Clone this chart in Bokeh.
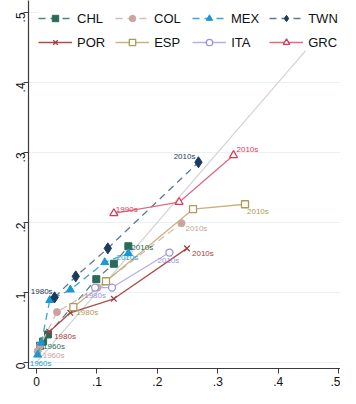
from bokeh.plotting import figure
from bokeh.models import Range1d, Legend, LegendItem, FixedTicker, CustomJSTickFormatter, Label
from bokeh.embed import file_html
from bokeh.resources import INLINE

# ---------------- data ----------------
countries = ["CHL", "COL", "MEX", "TWN", "POR", "ESP", "ITA", "GRC"]

CHL_dec = ["1960s", "1970s", "1980s", "1990s", "2000s", "2010s"]
CHL_x = [0.006, 0.011, 0.019, 0.099, 0.128, 0.152]
CHL_y = [0.024, 0.030, 0.040, 0.119, 0.141, 0.166]

COL_dec = ["1960s", "1970s", "1980s", "1990s", "2010s"]
COL_x = [0.002, 0.006, 0.034, 0.101, 0.240]
COL_y = [0.016, 0.024, 0.072, 0.107, 0.199]

MEX_dec = ["1960s", "1970s", "1980s", "1990s", "2000s", "2010s"]
MEX_x = [0.002, 0.008, 0.022, 0.056, 0.113, 0.152]
MEX_y = [0.011, 0.028, 0.089, 0.104, 0.143, 0.156]

TWN_dec = ["1980s", "1990s", "2000s", "2010s"]
TWN_x = [0.030, 0.065, 0.118, 0.268]
TWN_y = [0.093, 0.123, 0.163, 0.286]

POR_dec = ["1980s", "1990s", "2000s", "2010s"]
POR_x = [0.021, 0.056, 0.128, 0.249]
POR_y = [0.044, 0.071, 0.091, 0.163]

ESP_dec = ["1980s", "1990s", "2000s", "2010s"]
ESP_x = [0.061, 0.115, 0.259, 0.345]
ESP_y = [0.079, 0.116, 0.219, 0.226]

ITA_dec = ["1980s", "2000s", "2010s"]
ITA_x = [0.097, 0.125, 0.220]
ITA_y = [0.107, 0.107, 0.157]

GRC_dec = ["1990s", "2000s", "2010s"]
GRC_x = [0.128, 0.236, 0.326]
GRC_y = [0.213, 0.229, 0.296]

diag_x = [0.0, 0.445]
diag_y = [0.0, 0.445]

y_ticks = [0, 0.1, 0.2, 0.3, 0.4, 0.5]
x_ticks = [0, 0.1, 0.2, 0.3, 0.4, 0.5]

series = {
    "CHL": (CHL_dec, CHL_x, CHL_y),
    "COL": (COL_dec, COL_x, COL_y),
    "MEX": (MEX_dec, MEX_x, MEX_y),
    "TWN": (TWN_dec, TWN_x, TWN_y),
    "POR": (POR_dec, POR_x, POR_y),
    "ESP": (ESP_dec, ESP_x, ESP_y),
    "ITA": (ITA_dec, ITA_x, ITA_y),
    "GRC": (GRC_dec, GRC_x, GRC_y),
}

# ---------------- styles ----------------
FONT = "Liberation Sans"
style = {
    "CHL": dict(line="#4f8677", mark="#2a6a58", marker="square", size=7, dash="7 5", fill=True),
    "COL": dict(line="#d9bab3", mark="#c9a39c", marker="circle", size=7, dash="7 5", fill=True),
    "MEX": dict(line="#3aa6d8", mark="#1a98d0", marker="triangle", size=8, dash="7 5", fill=True),
    "TWN": dict(line="#5d7898", mark="#1b3a5c", marker="diamond", size=11, dash="7 5", fill=True),
    "POR": dict(line="#ad4c4c", mark="#a23e3e", marker="x", size=8, dash="solid", fill=True),
    "ESP": dict(line="#c7b380", mark="#b09a58", marker="square", size=7, dash="solid", fill=False),
    "ITA": dict(line="#b4aeea", mark="#9a92e0", marker="circle", size=7, dash="solid", fill=False),
    "GRC": dict(line="#e06a82", mark="#d83a5a", marker="triangle", size=8, dash="solid", fill=False),
}

# label placement: (country, decade) -> (x_offset px, y_offset px (up positive), align)
label_pos = {
    ("CHL", "1960s"): (3, -1, "left"),
    ("CHL", "2010s"): (3, -1, "left"),
    ("COL", "1960s"): (5, -4, "left"),
    ("COL", "2010s"): (4, -5, "left"),
    ("MEX", "1960s"): (-8, -9, "left"),
    ("MEX", "2010s"): (-1, -4, "center"),
    ("TWN", "1980s"): (-2, 6, "right"),
    ("TWN", "2010s"): (-3, 6, "right"),
    ("POR", "1980s"): (5, -5, "left"),
    ("POR", "2010s"): (5, -5, "left"),
    ("ESP", "1980s"): (3, -5, "left"),
    ("ESP", "2010s"): (2, -7, "left"),
    ("ITA", "1980s"): (0, -8, "center"),
    ("ITA", "2010s"): (-1, -8, "center"),
    ("GRC", "1990s"): (2, 4, "left"),
    ("GRC", "2010s"): (3, 6, "left"),
}

p = figure(width=340, height=388, output_backend="svg", toolbar_location=None,
           x_range=Range1d(-0.0132, 0.503), y_range=Range1d(-0.0086, 0.517),
           min_border_left=28, min_border_right=0, min_border_top=0, min_border_bottom=19)
p.outline_line_color = None
p.background_fill_color = "white"
p.border_fill_color = "white"

# axes
for ax, tk in ((p.xaxis[0], x_ticks), (p.yaxis[0], y_ticks)):
    ax.ticker = FixedTicker(ticks=tk)
    ax.formatter = CustomJSTickFormatter(code="return tick == 0 ? '0' : tick.toFixed(1).replace(/^0/, '');")
    ax.axis_line_color = "#3a3a3a"
    ax.axis_line_width = 1.2
    ax.major_tick_line_color = "#3a3a3a"
    ax.major_tick_in = 0
    ax.major_tick_out = 5
    ax.minor_tick_line_color = None
    ax.major_label_text_font = FONT
    ax.major_label_text_font_size = "12px"
    ax.major_label_text_color = "#111111"
p.xaxis[0].major_label_standoff = 3
p.yaxis[0].major_label_standoff = 3
p.yaxis[0].major_label_orientation = 3.14159265 / 2

p.xgrid.grid_line_color = None
p.ygrid.grid_line_color = "#e8f1f3"
p.ygrid.grid_line_width = 1.2

# 45-degree line
p.line(diag_x, diag_y, line_color="#d2d2d2", line_width=1.2)

items = {}
for c in countries:
    dec, xs, ys = series[c]
    s = style[c]
    lr = p.line(xs, ys, line_color=s["line"], line_width=1.3, line_dash=s["dash"])
    sr = p.scatter(xs, ys, marker=s["marker"], size=s["size"],
                   line_color=s["mark"], fill_color=s["mark"] if s["fill"] else "white",
                   line_width=1.3 if not s["fill"] or s["marker"] == "x" else 1)
    items[c] = LegendItem(label=c, renderers=[lr, sr])

# decade labels
for (c, d), (dx, dy, al) in label_pos.items():
    dec, xs, ys = series[c]
    i = dec.index(d)
    p.add_layout(Label(x=xs[i], y=ys[i], text=d, x_offset=dx, y_offset=dy,
                       text_font=FONT, text_font_size="8px", text_color=style[c]["mark"],
                       text_align=al, text_baseline="middle"))

# legends (two rows)
def make_legend(names, loc):
    return Legend(items=[items[n] for n in names], orientation="horizontal", location=loc,
                  glyph_width=34, glyph_height=16, label_height=16, label_width=28,
                  label_standoff=5, spacing=10, padding=0, margin=0,
                  label_text_font=FONT, label_text_font_size="13px", label_text_color="#111111",
                  border_line_color=None, background_fill_color="white", background_fill_alpha=1.0)

p.add_layout(make_legend(["CHL", "COL", "MEX", "TWN"], (10, 342)), "center")
p.add_layout(make_legend(["POR", "ESP", "ITA", "GRC"], (10, 318)), "center")

open("out.html", "w").write(file_html(p, INLINE))
